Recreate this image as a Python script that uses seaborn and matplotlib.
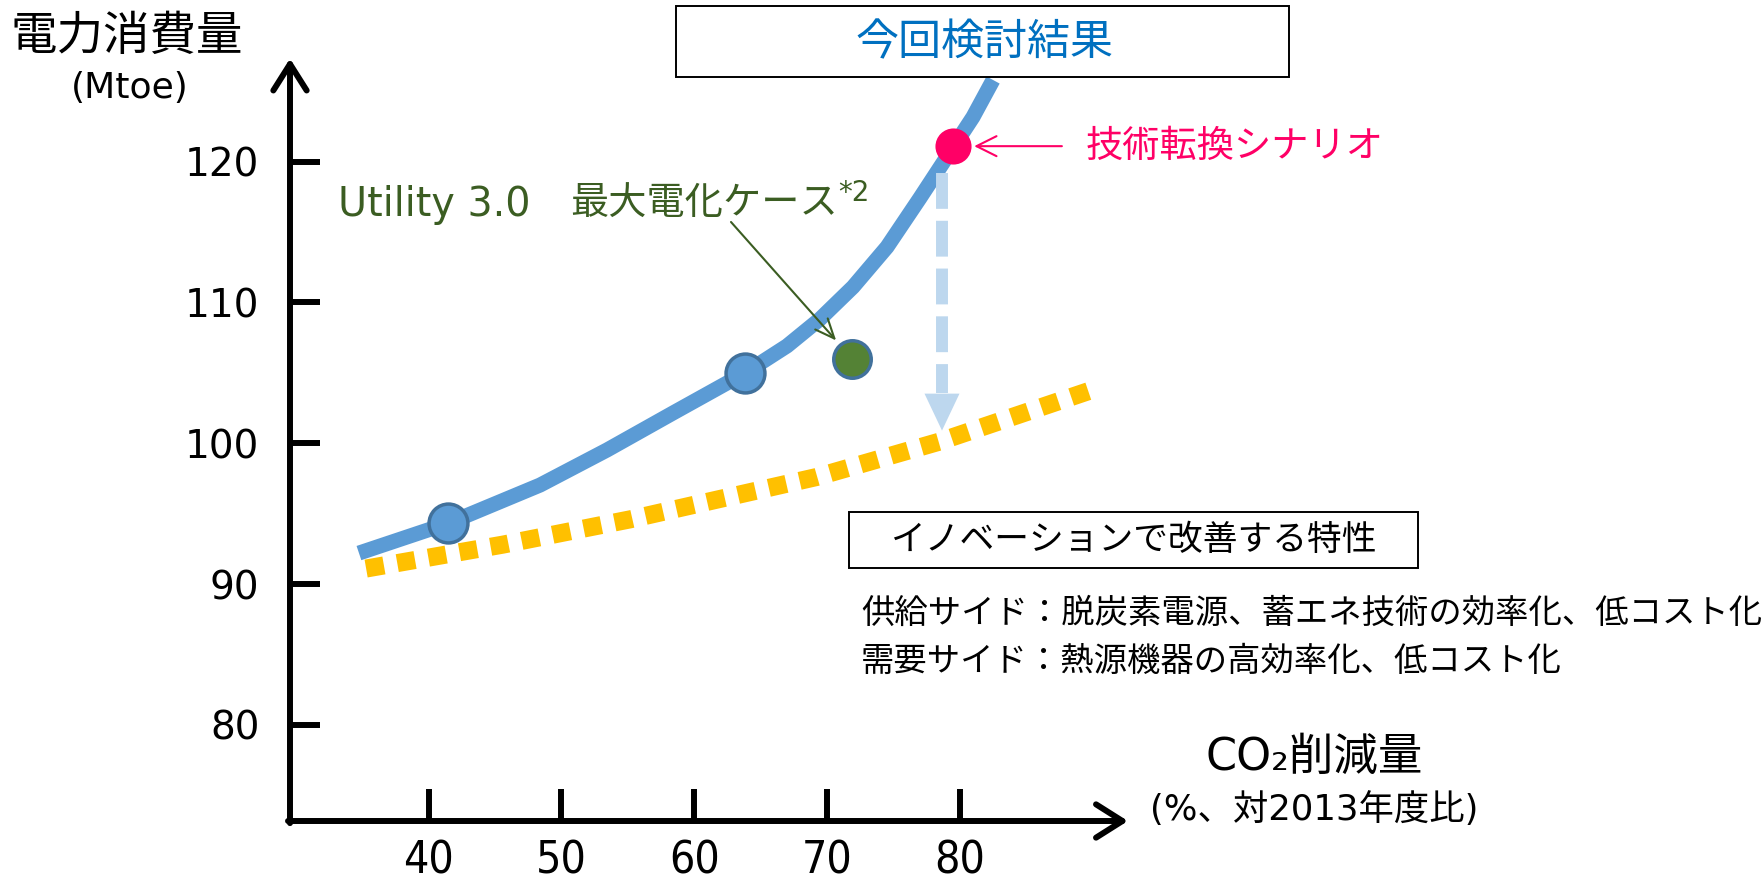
import matplotlib
matplotlib.use("Agg")
import matplotlib.pyplot as plt
from matplotlib.patches import Rectangle
import seaborn as sns

# ---- values ----
tech_curve_x = [34.76, 41.54, 48.39, 53.43, 58.40, 63.82, 66.98, 69.46,
                71.95, 74.51, 76.99, 79.55, 80.98, 82.49]
tech_curve_y = [92.20, 94.34, 97.03, 99.52, 102.15, 104.99, 106.91, 108.82,
                111.10, 113.94, 117.42, 121.11, 123.17, 125.80]
innov_curve_x = [35.3, 45.6, 55.2, 69.2, 78.4, 90.3]
innov_curve_y = [91.1, 92.8, 94.6, 97.6, 100.1, 103.9]
study_x = [41.5, 63.8]
study_y = [94.3, 105.0]
scenario_x = [79.5]
scenario_y = [121.1]
utility_x = [71.9]
utility_y = [106.0]
improved_y = 100.9
x_ticks = [40, 50, 60, 70, 80]
y_ticks = [80, 90, 100, 110, 120]
x_ticklabels = ["40", "50", "60", "70", "80"]
y_ticklabels = ["80", "90", "100", "110", "120"]

W, H = 1764, 889
XL = (29.57, 93.55)
YL = (73.17, 127.93)
AX_L, AX_R, AX_T, AX_B = 290, 1140, 50, 821


def dx(px):
    return XL[0] + (px - AX_L) * (XL[1] - XL[0]) / (AX_R - AX_L)


def dy(py):
    return YL[1] - (py - AX_T) * (YL[1] - YL[0]) / (AX_B - AX_T)


def fx(px):
    return px / W


def fy(py):
    return 1 - py / H


sns.set_theme(style="white")
plt.rcParams["font.family"] = ["DejaVu Sans", "Noto Sans CJK JP"]

fig = plt.figure(figsize=(W / 100, H / 100), dpi=100)
fig.patch.set_facecolor("white")
ax = fig.add_axes([fx(AX_L), fy(AX_B), (AX_R - AX_L) / W, (AX_B - AX_T) / H])
ax.set_xlim(*XL)
ax.set_ylim(*YL)
ax.set_facecolor("none")
for s in ax.spines.values():
    s.set_visible(False)

# ticks
ax.set_xticks(x_ticks, x_ticklabels)
ax.set_yticks(y_ticks, y_ticklabels)
ax.tick_params(axis="x", direction="in", length=23, width=4.3, color="black",
               pad=13, labelsize=32, bottom=True, labelcolor="black")
ax.tick_params(axis="y", direction="in", length=21.5, width=4.3, color="black",
               pad=22, labelsize=28, left=True, labelcolor="black")
for lab in ax.get_xticklabels():
    lab.set_fontstretch("condensed")
ax.grid(False)

# axis arrows
axis_kw = dict(arrowstyle="->,head_length=0.95,head_width=0.6", lw=4.3,
               color="black", shrinkA=0, shrinkB=0, mutation_scale=20,
               joinstyle="round", capstyle="round")
ax.annotate("", xy=(dx(1128), YL[0]), xytext=(XL[0] - 0.15, YL[0]),
            arrowprops=axis_kw, annotation_clip=False)
ax.annotate("", xy=(XL[0], dy(58.5)), xytext=(XL[0], YL[0] - 0.15),
            arrowprops=axis_kw, annotation_clip=False)

# curves
sns.lineplot(x=innov_curve_x, y=innov_curve_y, sort=False, estimator=None,
             color="#FFC000", linewidth=13, linestyle=(0, (1, 0.75)),
             dash_capstyle="butt", ax=ax, zorder=2)
sns.lineplot(x=tech_curve_x, y=tech_curve_y, sort=False, estimator=None,
             color="#5B9BD5", linewidth=10.8, solid_capstyle="butt",
             solid_joinstyle="round", ax=ax, zorder=3)

# points
sns.scatterplot(x=study_x, y=study_y, s=784, color="#5B9BD5",
                edgecolor="#41719C", linewidth=2.5, ax=ax, zorder=5)
sns.scatterplot(x=utility_x, y=utility_y, s=729, color="#548235",
                edgecolor="#41719C", linewidth=2.5, ax=ax, zorder=5)
sns.scatterplot(x=scenario_x, y=scenario_y, s=676, color="#FF0066",
                edgecolor="#FF0066", linewidth=0, ax=ax, zorder=5)

# dashed light blue arrow (improvement by innovation)
arrow_x = dx(942)
ax.plot([arrow_x, arrow_x], [dy(173), dy(393)], color="#BDD7EE", lw=8.6,
        dashes=(3, 1), dash_capstyle="butt", zorder=4)
ax.annotate("", xy=(arrow_x, improved_y), xytext=(arrow_x, dy(393)),
            arrowprops=dict(arrowstyle="-|>,head_length=1.33,head_width=0.63",
                            mutation_scale=20, color="#BDD7EE", lw=0,
                            shrinkA=0, shrinkB=0), zorder=4)

# red annotation
ax.annotate("技術転換シナリオ", xy=(scenario_x[0], scenario_y[0]),
            xytext=(dx(1086), scenario_y[0]), ha="left", va="center",
            color="#FF0066", fontsize=26.8,
            arrowprops=dict(arrowstyle="->,head_length=0.72,head_width=0.36",
                            mutation_scale=20, color="#FF0066", lw=1.5,
                            shrinkA=15, shrinkB=15),
            annotation_clip=False)

# green annotation
green = "#3B5D22"
ax.annotate("", xy=(utility_x[0], utility_y[0]), xytext=(dx(731), dy(222)),
            arrowprops=dict(arrowstyle="->,head_length=0.7,head_width=0.3",
                            mutation_scale=20, color=green, lw=1.5,
                            shrinkA=0, shrinkB=17.6),
            annotation_clip=False)
fig.text(fx(338), fy(205), "Utility 3.0", color=green, fontsize=28.5,
         ha="left", va="center")
fig.text(fx(570), fy(205), "最大電化ケース", color=green, fontsize=27.5,
         ha="left", va="center")
fig.text(fx(838), fy(193), "*2", color=green, fontsize=20, ha="left",
         va="center")

# box: 今回検討結果
ax.add_patch(Rectangle((fx(676), fy(77)), 613 / W, 71 / H,
                       transform=fig.transFigure, facecolor="white",
                       edgecolor="black", lw=1.4, clip_on=False, zorder=6))
fig.text(fx(984), fy(43), "今回検討結果", color="#0070C0", fontsize=31,
         ha="center", va="center")

# box: イノベーションで改善する特性
ax.add_patch(Rectangle((fx(849), fy(568)), 569 / W, 56 / H,
                       transform=fig.transFigure, facecolor="white",
                       edgecolor="black", lw=1.4, clip_on=False, zorder=6))
fig.text(fx(1133.5), fy(540), "イノベーションで改善する特性", fontsize=25,
         ha="center", va="center", color="black")
fig.text(fx(861), fy(613), "供給サイド：脱炭素電源、蓄エネ技術の効率化、低コスト化",
         fontsize=24, ha="left", va="center", color="black")
fig.text(fx(861), fy(661.5), "需要サイド：熱源機器の高効率化、低コスト化",
         fontsize=24, ha="left", va="center", color="black")

# axis titles
fig.text(fx(11), fy(37), "電力消費量", fontsize=33.5, ha="left", va="center",
         color="black")
fig.text(fx(129.5), fy(88), "(Mtoe)", fontsize=26, ha="center", va="center",
         color="black")
fig.text(fx(1314), fy(757), "CO₂削減量", fontsize=32, ha="center",
         va="center", color="black")
fig.text(fx(1314), fy(810), "(%、対2013年度比)", fontsize=25.5, ha="center",
         va="center", color="black")

fig.savefig("out.png", dpi=100)
